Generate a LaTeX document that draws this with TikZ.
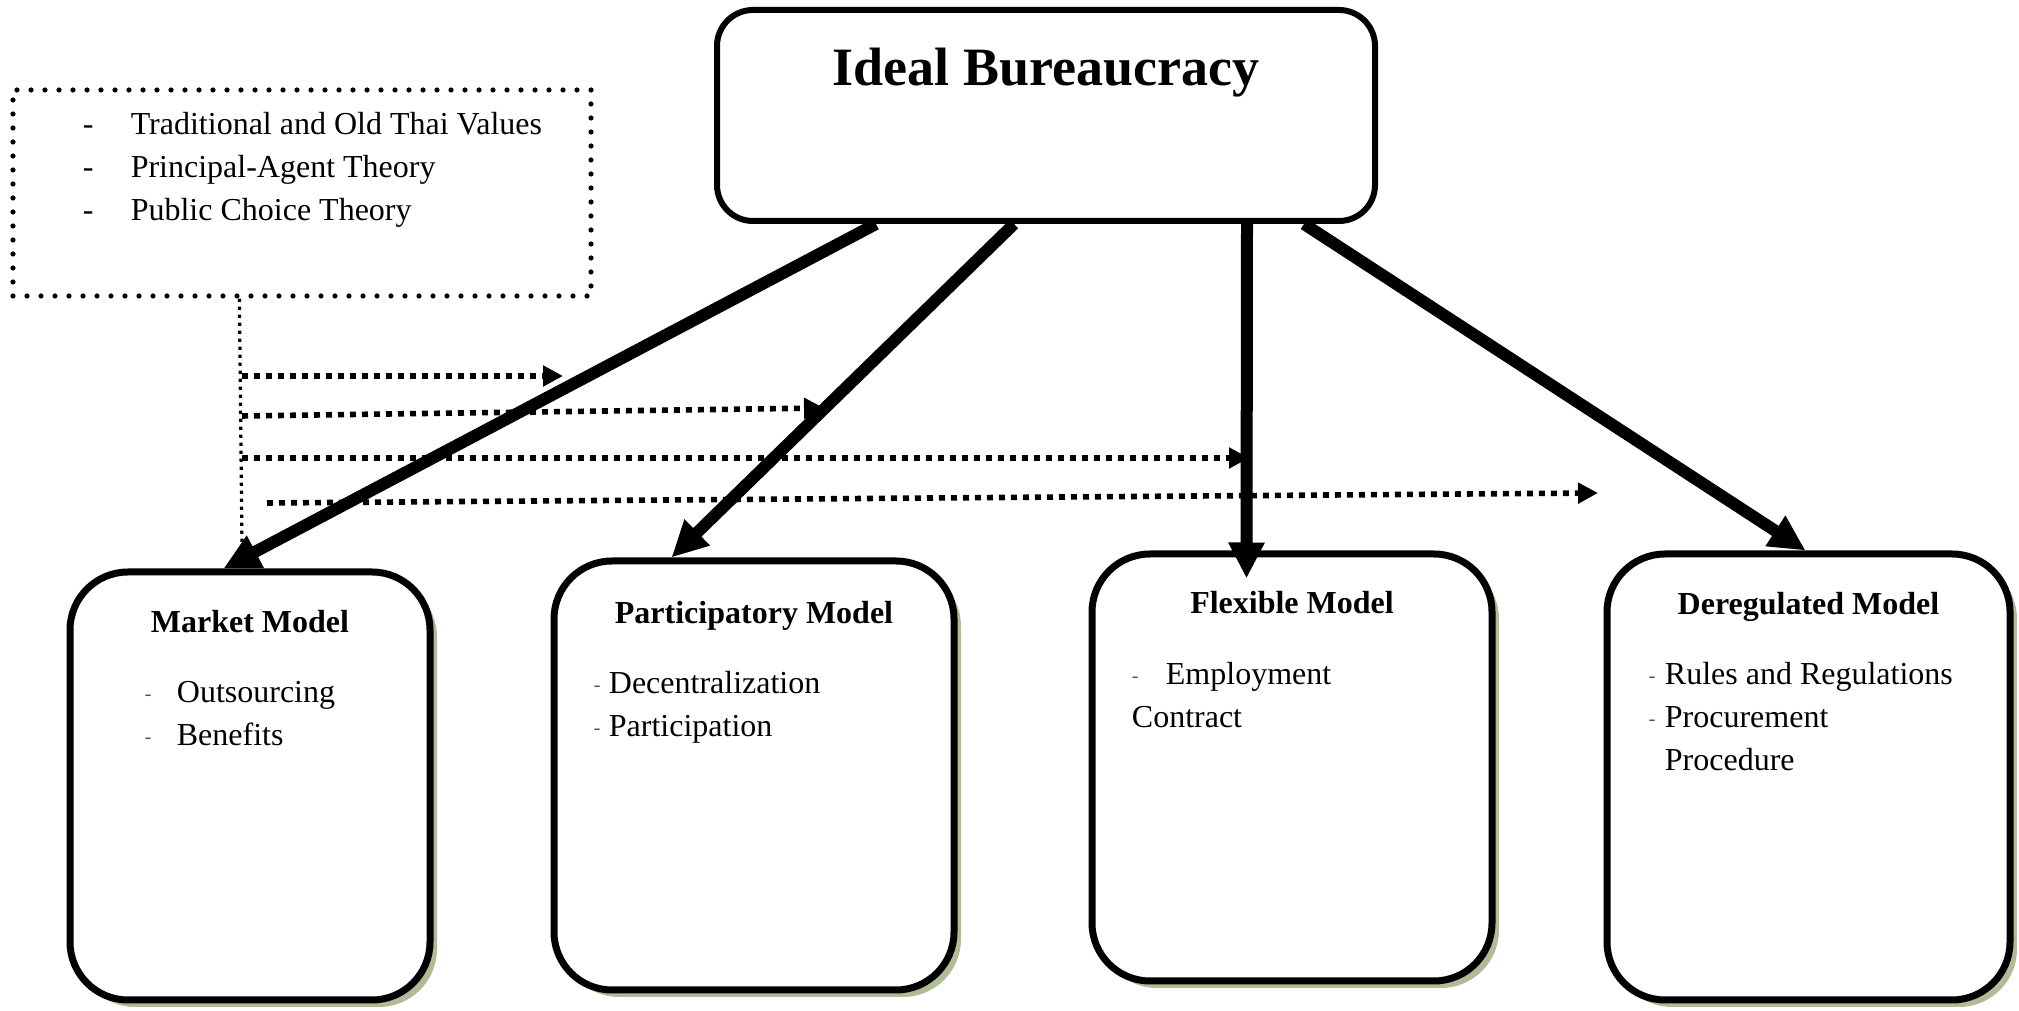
\documentclass[tikz,border=0pt]{standalone}
\usepackage{fontspec}
\setmainfont{Liberation Serif}
\usetikzlibrary{arrows.meta,positioning,calc,shadows}
\definecolor{shadowgreen}{RGB}{176,188,150}
\definecolor{dashgray}{RGB}{80,80,80}
\tikzset{
  idealbox/.style={
    draw,
    line width=3pt,
    rounded corners=18pt,
    fill=white,
    minimum width=329pt,
    minimum height=105.5pt
  },
  theorybox/.style={draw, line width=2.6pt, line cap=round, dash pattern=on 0pt off 7pt,
    minimum width=289pt, minimum height=103pt},
  modelbox/.style={
    draw,
    line width=3.5pt,
    rounded corners=29pt,
    fill=white,
    minimum width=200pt,
    minimum height=214pt,
    drop shadow={shadow xshift=3.5pt, shadow yshift=-3.5pt, fill=shadowgreen, opacity=1}
  },
  modeltitle/.style={font=\fontsize{16}{19}\selectfont\bfseries, inner sep=0pt, anchor=base},
  itemlist/.style={font=\fontsize{16}{21.5}\selectfont, inner sep=0pt, anchor=base west},
  bigflow/.style={-{Triangle[length=18pt,width=17pt]}, line width=6pt},
  hintflow/.style={-{Triangle[length=10pt,width=10pt]}, line width=2.8pt, dash pattern=on 3pt off 3pt},
  hintline/.style={line width=1.6pt, dash pattern=on 1.6pt off 2.4pt}
}
\newcommand{\smalldash}{\raisebox{1pt}[0pt][0pt]{\fontsize{10}{10}\selectfont\color{dashgray}-}}

\begin{document}
\begin{tikzpicture}[x=1pt, y=1pt]
\useasboundingbox (0,0) rectangle (1009.5,505.5);

% top box
\node[idealbox] (ideal) at (523,447.75) {};
\node[font=\fontsize{27}{30}\selectfont\bfseries, anchor=base, inner sep=0pt] (idealtitle)
  at ([yshift=-39.5pt]ideal.north) {Ideal Bureaucracy};

% theories
\node[theorybox] (theory) at (151,409) {};
\node[itemlist] (theorylist) at ([xshift=36pt,yshift=-23.5pt]theory.north west) {\begin{tabular}[t]{@{}p{24pt}@{}l@{}}
- & Traditional and Old Thai Values\\
- & Principal-Agent Theory\\
- & Public Choice Theory
\end{tabular}};

% models
\node[modelbox, minimum width=180pt] (market) at (125,112.5) {};
\node[modeltitle] (markettitle) at ([yshift=-32pt]market.north) {Market Model};
\node[itemlist] (marketlist) at ([xshift=39pt,yshift=-67pt]market.north west) {\begin{tabular}[t]{@{}l@{}l@{}}
\makebox[16pt][l]{\smalldash} & Outsourcing\\
\makebox[16pt][l]{\smalldash} & Benefits
\end{tabular}};

\node[modelbox, minimum height=214.5pt] (particip) at (377,117.75) {};
\node[modeltitle] (participtitle) at ([yshift=-33pt]particip.north) {Participatory Model};
\node[itemlist] (participlist) at ([xshift=21.5pt,yshift=-68pt]particip.north west) {\begin{tabular}[t]{@{}l@{}l@{}}
\makebox[7.5pt][l]{\smalldash} & Decentralization\\
\makebox[7.5pt][l]{\smalldash} & Participation
\end{tabular}};

\node[modelbox, minimum height=213.5pt] (flexible) at (646,121.75) {};
\node[modeltitle] (flexibletitle) at ([yshift=-31.5pt]flexible.north) {Flexible Model};
\node[itemlist] (flexiblelist) at ([xshift=21.5pt,yshift=-67pt]flexible.north west) {\begin{tabular}[t]{@{}l@{}l@{}}
\makebox[17pt][l]{\smalldash} & Employment\\
\multicolumn{2}{@{}l@{}}{Contract}
\end{tabular}};

\node[modelbox, minimum width=201.5pt, minimum height=223pt] (dereg) at (904.25,117) {};
\node[modeltitle] (deregtitle) at ([yshift=-32pt]dereg.north) {Deregulated Model};
\node[itemlist] (dereglist) at ([xshift=22.5pt,yshift=-67pt]dereg.north west) {\begin{tabular}[t]{@{}l@{}l@{}}
\makebox[8pt][l]{\smalldash} & Rules and Regulations\\
\makebox[8pt][l]{\smalldash} & Procurement\\
 & Procedure
\end{tabular}};

% dotted hints
\coordinate (hintfoot) at (121,232);
\coordinate (hintA) at (121,317.5);
\coordinate (hintB) at (121,297.5);
\coordinate (hintC) at (121,276.5);
\coordinate (hintD) at (133.5,254);
\coordinate (tipA) at (281.5,317.5);
\coordinate (tipB) at (412,301.5);
\coordinate (tipC) at (624.5,276.5);
\coordinate (tipD) at (799,259);
\draw[hintline] ([xshift=114.5pt]theory.south west) -- (hintfoot);
\draw[hintflow] (hintA) -- (tipA);
\draw[hintflow] (hintB) -- (tipB);
\draw[hintflow] (hintC) -- (tipC);
\draw[hintflow] (hintD) -- (tipD);

% main arrows
\draw[bigflow] ([xshift=81pt]ideal.south west) -- ([xshift=78.5pt]market.north west);
\draw[bigflow] ([xshift=150pt]ideal.south west) -- ([xshift=60.5pt]particip.north west);
\draw[bigflow] ([xshift=266.5pt]ideal.south west) -- ([xshift=79pt,yshift=-14pt]flexible.north west);
\draw[bigflow] ([xshift=295pt]ideal.south west) -- ([xshift=101pt]dereg.north west);
\end{tikzpicture}
\end{document}
